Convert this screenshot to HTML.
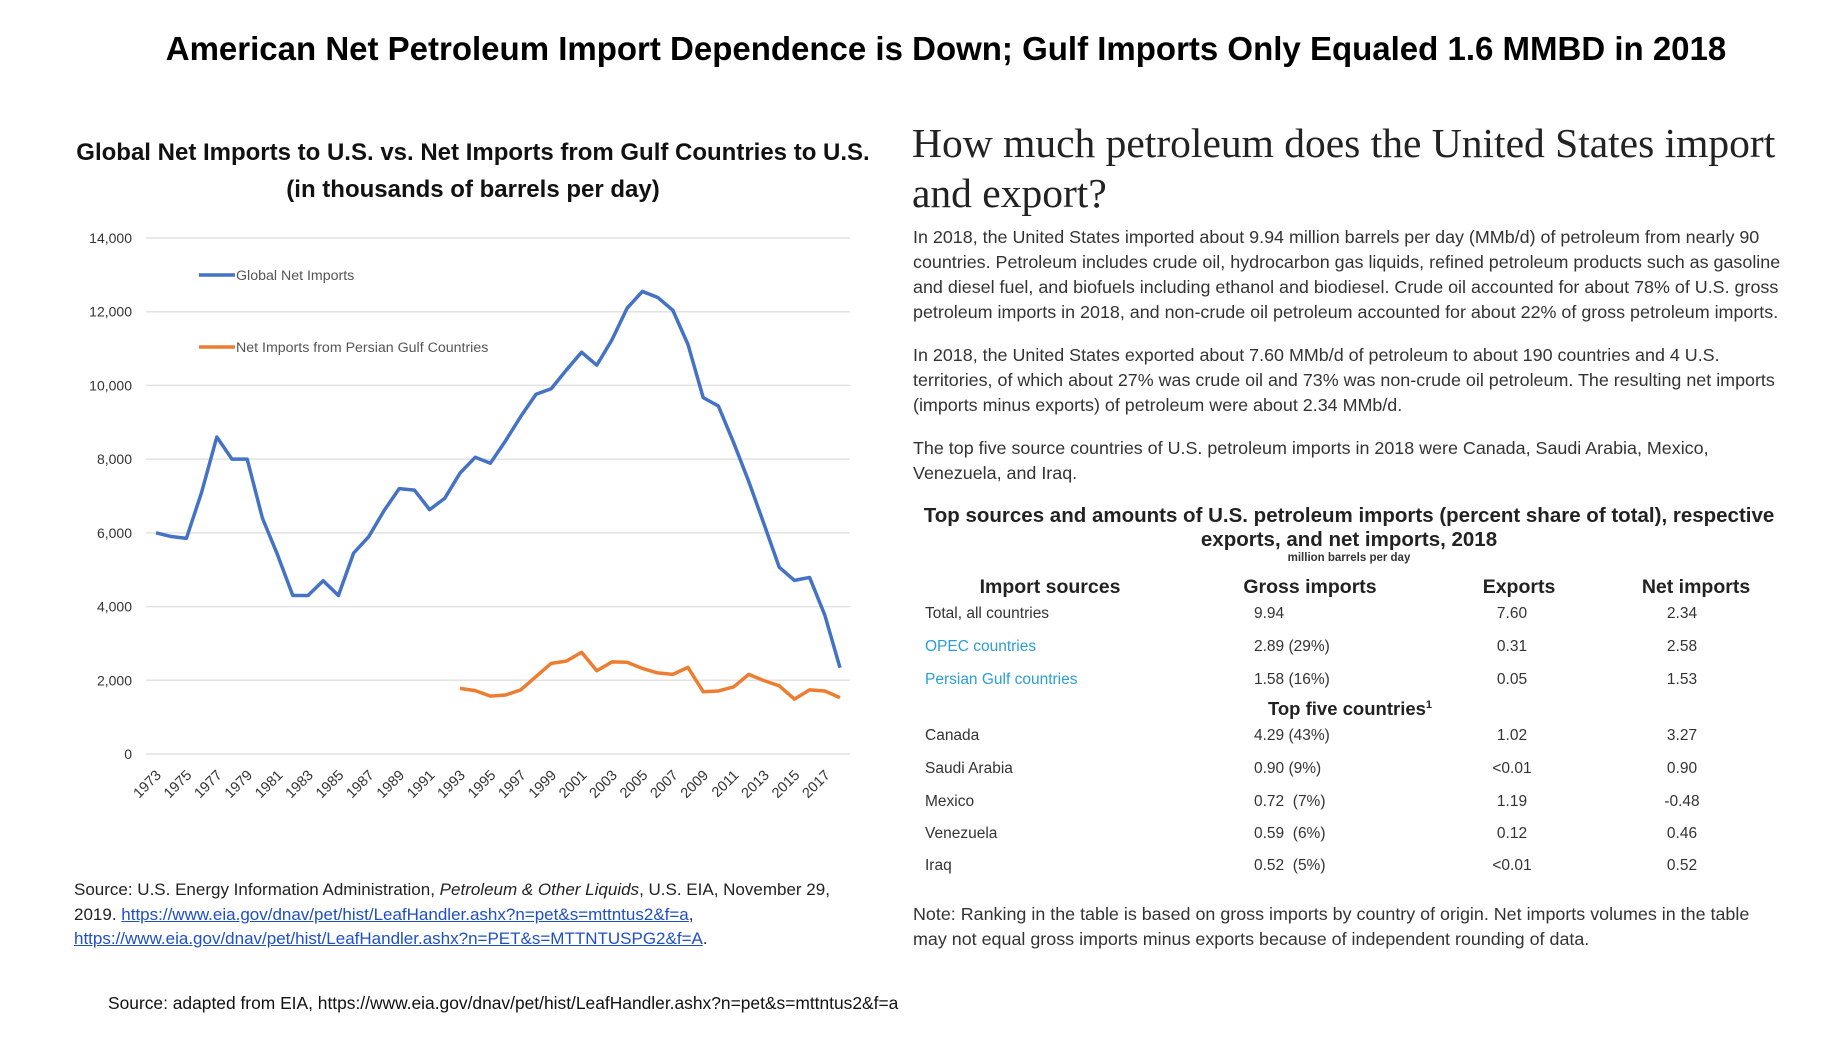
<!DOCTYPE html>
<html><head><meta charset="utf-8"><style>
body{margin:0;width:1838px;height:1045px;background:#fff;position:relative;overflow:hidden;font-family:"Liberation Sans",sans-serif;color:#222}
.a{position:absolute;white-space:nowrap}
.p{font-size:17.9px;color:#333;line-height:25px}
.c{font-size:15.5px;color:#333;transform:translateX(-50%)}
.lk{color:#2a9fd6}
.h{font-size:19.5px;font-weight:bold;transform:translateX(-50%)}
</style></head><body>
<div class="a" style="left:27px;width:1838px;text-align:center;top:30px;font-size:33px;font-weight:bold;color:#000">American Net Petroleum Import Dependence is Down; Gulf Imports Only Equaled 1.6 MMBD in 2018</div>
<div class="a" style="left:73px;width:800px;text-align:center;top:134px;font-size:24px;font-weight:bold;line-height:37px;color:#111">Global Net Imports to U.S. vs. Net Imports from Gulf Countries to U.S.<br>(in thousands of barrels per day)</div>
<svg id="chart" width="1838" height="1045" style="position:absolute;left:0;top:0"></svg>
<div class="a" style="left:74px;top:878px;font-size:17px;line-height:24.5px;color:#222">Source: U.S. Energy Information Administration, <i>Petroleum &amp; Other Liquids</i>, U.S. EIA, November 29,<br>2019. <span style="color:#1f4fc4;text-decoration:underline">https://www.eia.gov/dnav/pet/hist/LeafHandler.ashx?n=pet&amp;s=mttntus2&amp;f=a</span>,<br><span style="color:#1f4fc4;text-decoration:underline">https://www.eia.gov/dnav/pet/hist/LeafHandler.ashx?n=PET&amp;s=MTTNTUSPG2&amp;f=A</span>.</div>
<div class="a" style="left:108px;top:993px;font-size:17.4px;color:#111">Source: adapted from EIA, https://www.eia.gov/dnav/pet/hist/LeafHandler.ashx?n=pet&amp;s=mttntus2&amp;f=a</div>

<div class="a" style="left:912px;top:118px;font-family:'Liberation Serif',serif;font-size:41.5px;line-height:50px;color:#222">How much petroleum does the United States import<br>and export?</div>
<div class="a p" style="left:913px;top:225px">In 2018, the United States imported about 9.94 million barrels per day (MMb/d) of petroleum from nearly 90<br>countries. Petroleum includes crude oil, hydrocarbon gas liquids, refined petroleum products such as gasoline<br>and diesel fuel, and biofuels including ethanol and biodiesel. Crude oil accounted for about 78% of U.S. gross<br>petroleum imports in 2018, and non-crude oil petroleum accounted for about 22% of gross petroleum imports.</div>
<div class="a p" style="left:913px;top:343px">In 2018, the United States exported about 7.60 MMb/d of petroleum to about 190 countries and 4 U.S.<br>territories, of which about 27% was crude oil and 73% was non-crude oil petroleum. The resulting net imports<br>(imports minus exports) of petroleum were about 2.34 MMb/d.</div>
<div class="a p" style="left:913px;top:436px">The top five source countries of U.S. petroleum imports in 2018 were Canada, Saudi Arabia, Mexico,<br>Venezuela, and Iraq.</div>
<div class="a" style="left:913px;width:872px;text-align:center;top:504px;font-size:20.5px;font-weight:bold;line-height:24px;color:#222">Top sources and amounts of U.S. petroleum imports (percent share of total), respective<br>exports, and net imports, 2018</div>
<div class="a" style="left:913px;width:872px;text-align:center;top:552px;font-size:11.5px;font-weight:bold;color:#333">million barrels per day</div>
<div class="a h" style="left:1050px;top:576px">Import sources</div>
<div class="a h" style="left:1310px;top:576px">Gross imports</div>
<div class="a h" style="left:1519px;top:576px">Exports</div>
<div class="a h" style="left:1696px;top:576px">Net imports</div>
<div class="a h" style="left:1350px;top:698px;font-size:18.5px">Top five countries<sup style="font-size:11px">1</sup></div>
<div id="rows"></div>
<div class="a p" style="left:913px;top:902px">Note: Ranking in the table is based on gross imports by country of origin. Net imports volumes in the table<br>may not equal gross imports minus exports because of independent rounding of data.</div>

<script>
const years=[1973,1974,1975,1976,1977,1978,1979,1980,1981,1982,1983,1984,1985,1986,1987,1988,1989,1990,1991,1992,1993,1994,1995,1996,1997,1998,1999,2000,2001,2002,2003,2004,2005,2006,2007,2008,2009,2010,2011,2012,2013,2014,2015,2016,2017,2018];
const globalNet=[6000,5900,5850,7100,8600,8000,8000,6400,5400,4300,4300,4700,4300,5450,5900,6600,7200,7160,6630,6940,7620,8050,7890,8500,9160,9760,9910,10420,10900,10550,11240,12100,12550,12390,12040,11110,9670,9440,8450,7390,6240,5070,4710,4790,3770,2340];
const gulfYears=[1993,1994,1995,1996,1997,1998,1999,2000,2001,2002,2003,2004,2005,2006,2007,2008,2009,2010,2011,2012,2013,2014,2015,2016,2017,2018];
const gulfNet=[1780,1720,1570,1600,1740,2100,2460,2520,2760,2260,2500,2490,2320,2200,2160,2350,1690,1710,1820,2160,1990,1850,1490,1740,1710,1530];
const yTicks=[0,2000,4000,6000,8000,10000,12000,14000];
const ns="http://www.w3.org/2000/svg";
const svg=document.getElementById('chart');
const X=y=>156+(y-1973)*(840-156)/45;
const Y=v=>754-v*(754-238)/14000;
function mk(t,a){const e=document.createElementNS(ns,t);for(const k in a)e.setAttribute(k,a[k]);svg.appendChild(e);return e;}
yTicks.forEach(t=>{
 const g=mk('line',{x1:146,x2:850,y1:Y(t),y2:Y(t),stroke:'#e2e2e2','stroke-width':1.5});
 
 
 const l=mk('text',{x:132,y:Y(t)+5,'text-anchor':'end','font-size':14,fill:'#333','font-family':'Liberation Sans'});
 l.textContent=t.toLocaleString('en-US');
 
 
});
years.forEach((y,i)=>{if(i%2)return;
 const l=mk('text',{transform:`translate(${X(y)+6},${776}) rotate(-45)`,'text-anchor':'end','font-size':14.5,fill:'#333','font-family':'Liberation Sans'});
 l.textContent=y;
 
 
});
const p1=mk('polyline',{points:years.map((y,i)=>X(y)+','+Y(globalNet[i])).join(' '),fill:'none',stroke:'#4472c4','stroke-width':3.5,'stroke-linejoin':'round'});


const p2=mk('polyline',{points:gulfYears.map((y,i)=>X(y)+','+Y(gulfNet[i])).join(' '),fill:'none',stroke:'#ed7d31','stroke-width':3.5,'stroke-linejoin':'round'});


[['#4472c4','Global Net Imports',275],['#ed7d31','Net Imports from Persian Gulf Countries',347]].forEach(d=>{
 const ln=mk('line',{x1:199,x2:235,y1:d[2],y2:d[2],stroke:d[0],'stroke-width':3.5});
 
 
 const t=mk('text',{x:236,y:d[2]+5,'font-size':14.2,fill:'#555','font-family':'Liberation Sans'});
 t.textContent=d[1];
 
 
});
const rows=[['Total, all countries','9.94','7.60','2.34',615,0],['OPEC countries','2.89 (29%)','0.31','2.58',648,1],['Persian Gulf countries','1.58 (16%)','0.05','1.53',681,1],['Canada','4.29 (43%)','1.02','3.27',737,0],['Saudi Arabia','0.90 (9%)','<0.01','0.90',770,0],['Mexico','0.72 &nbsp;(7%)','1.19','-0.48',803,0],['Venezuela','0.59 &nbsp;(6%)','0.12','0.46',835,0],['Iraq','0.52 &nbsp;(5%)','<0.01','0.52',867,0]];
const R=document.getElementById('rows');
rows.forEach(r=>{
 const t=r[4]-10;
 const d=document.createElement('div');
 
 
 d.innerHTML=`<div class="a ${r[5]?'lk':''}" style="left:925px;top:${t}px;font-size:15.5px;${r[5]?'':'color:#333'}">${r[0]}</div>
<div class="a" style="left:1254px;top:${t}px;font-size:15.5px;color:#333">${r[1]}</div>
<div class="a c" style="left:1512px;top:${t}px">${r[2]}</div>
<div class="a c" style="left:1682px;top:${t}px">${r[3]}</div>`;
 R.appendChild(d);
});
</script>
</body></html>
